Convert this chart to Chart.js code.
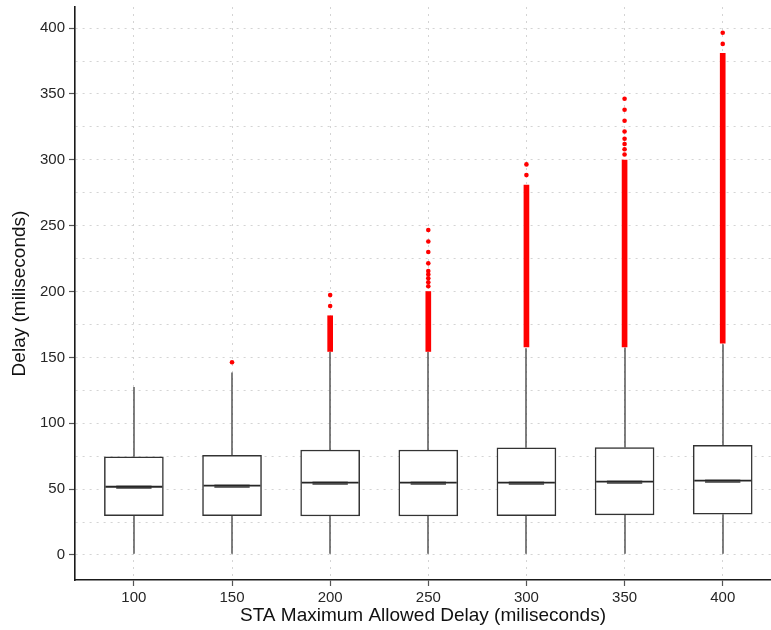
<!DOCTYPE html>
<html><head><meta charset="utf-8">
<script src="https://cdn.jsdelivr.net/npm/chart.js@4/dist/chart.umd.min.js"></script>
<style>html,body{margin:0;padding:0;background:#fff}#wrap{width:771px;height:630px;position:relative}canvas{display:block}</style>
</head><body><div id="wrap"><canvas id="c" width="771" height="630" style="width:771px;height:630px"></canvas></div>
<script>
// ---- data ----
const categories = [100, 150, 200, 250, 300, 350, 400];
const lowerWhisker = [1, 1, 1, 1, 1, 1, 1];
const q1 = [29.8, 29.8, 29.6, 29.6, 29.8, 30.4, 30.9];
const medians = [51.8, 52.6, 54.9, 54.9, 54.9, 55.7, 56.4];
const q3 = [74.6, 75.7, 79.7, 79.7, 81.4, 81.6, 83.2];
const upperWhisker = [127.5, 138.5, 154, 154, 157, 157.5, 160];
// dense runs of outliers (drawn as a solid red run)
const bandCategories = [200, 250, 300, 350, 400];
const bandLow = [154.5, 154.5, 158, 158, 160.7];
const bandHigh = [181.6, 200, 280.8, 299.8, 380.8];
// separate outliers
const outliers100 = [];
const outliers150 = [146.3];
const outliers200 = [189, 197.3];
const outliers250 = [204, 207, 210, 213, 215.5, 221.4, 230, 238, 246.7];
const outliers300 = [288.4, 296.5];
const outliers350 = [304, 308, 312, 316, 321.5, 329.6, 338, 346.4];
const outliers400 = [388, 396.5];
const yTickValues = [0, 25, 50, 75, 100, 125, 150, 175, 200, 225, 250, 275, 300, 325, 350, 375, 400];
const xTitle = 'STA Maximum Allowed Delay (miliseconds)';
const yTitle = 'Delay (miliseconds)';

const outlierLists = [outliers100, outliers150, outliers200, outliers250, outliers300, outliers350, outliers400];
const outlierPts = [];
outlierLists.forEach((arr, i) => arr.forEach(v => outlierPts.push({x: categories[i], y: v})));

const BOX_HALF = 15;   // in x units
const MED_INNER = 9;   // in x units

const boxPlugin = {
  id: 'boxParts',
  beforeDatasetsDraw(chart) {
    const {ctx, scales: {x, y}} = chart;
    ctx.save();
    ctx.strokeStyle = '#4a4a4a';
    ctx.lineWidth = 1.4;
    categories.forEach((c, i) => {
      const px = Math.round(x.getPixelForValue(c));
      ctx.beginPath();
      ctx.moveTo(px, y.getPixelForValue(upperWhisker[i]));
      ctx.lineTo(px, y.getPixelForValue(q3[i]));
      ctx.moveTo(px, y.getPixelForValue(q1[i]));
      ctx.lineTo(px, y.getPixelForValue(lowerWhisker[i]));
      ctx.stroke();
    });
    ctx.restore();
  },
  afterDatasetDraw(chart, args) {
    if (args.index !== 0) return;
    const {ctx, scales: {x, y}} = chart;
    ctx.save();
    categories.forEach((c, i) => {
      const py = y.getPixelForValue(medians[i]);
      ctx.strokeStyle = '#6e6e6e';
      ctx.lineWidth = 3.5;
      ctx.beginPath();
      ctx.moveTo(x.getPixelForValue(c - MED_INNER), py + 0.6);
      ctx.lineTo(x.getPixelForValue(c + MED_INNER), py + 0.6);
      ctx.stroke();
      ctx.strokeStyle = '#262626';
      ctx.lineWidth = 1.8;
      ctx.beginPath();
      ctx.moveTo(x.getPixelForValue(c - BOX_HALF) + 1, py);
      ctx.lineTo(x.getPixelForValue(c + BOX_HALF) - 1, py);
      ctx.stroke();
    });
    ctx.restore();
  }
};

const tickFont = {family: '"Liberation Sans", Arial, sans-serif', size: 15};
const titleFont = {family: '"Liberation Sans", Arial, sans-serif', size: 19};

new Chart(document.getElementById('c'), {
  type: 'bar',
  data: {
    datasets: [
      {
        type: 'bar',
        data: categories.map((c, i) => ({x: c, y: [q1[i], q3[i]]})),
        backgroundColor: '#ffffff',
        borderColor: '#333333',
        borderWidth: 1.5,
        borderSkipped: false,
        barThickness: 59,
        grouped: false,
        order: 3
      },
      {
        type: 'bar',
        data: bandCategories.map((c, i) => ({x: c, y: [bandLow[i], bandHigh[i]]})),
        backgroundColor: '#ff0000',
        borderWidth: 0,
        barThickness: 5,
        grouped: false,
        order: 2
      },
      {
        type: 'scatter',
        data: outlierPts,
        pointRadius: 2.3,
        pointBackgroundColor: '#ff0000',
        pointBorderWidth: 0,
        showLine: false,
        order: 1
      }
    ]
  },
  options: {
    responsive: false,
    animation: false,
    devicePixelRatio: 1,
    layout: {autoPadding: false, padding: {top: 7, right: 0, left: 0, bottom: 0}},
    plugins: {legend: {display: false}, tooltip: {enabled: false}},
    scales: {
      x: {
        type: 'linear',
        offset: false,
        min: 70,
        max: 424.6,
        afterBuildTicks: s => { s.ticks = categories.map(v => ({value: v})); },
        afterFit: s => { s.height = 50; s.paddingLeft = 0; s.paddingRight = 0; },
        ticks: {font: tickFont, color: '#262626', padding: 3, autoSkip: false, maxRotation: 0, callback: v => String(v)},
        grid: {offset: false, color: '#d4d4d4', lineWidth: 1, tickLength: 6, tickColor: '#555', tickWidth: 1.2, tickBorderDash: []},
        border: {display: true, color: '#1a1a1a', width: 1.6, dash: [2, 5]},
        title: {display: true, text: xTitle, font: titleFont, color: '#111', padding: {top: 0, bottom: 3}}
      },
      y: {
        type: 'linear',
        min: -19,
        max: 416,
        afterBuildTicks: s => { s.ticks = yTickValues.map(v => ({value: v})); },
        afterFit: s => { s.width = 75; s.paddingTop = 0; s.paddingBottom = 0; },
        ticks: {font: tickFont, color: '#262626', padding: 4, autoSkip: false,
          callback: v => (v % 50 === 0 ? String(v) : '')},
        grid: {color: '#d4d4d4', lineWidth: 1, tickLength: 6,
          tickColor: ctx => (ctx.tick && ctx.tick.value % 50 === 0 ? '#555' : 'rgba(0,0,0,0)'),
          tickWidth: 1.2, tickBorderDash: []},
        border: {display: true, color: '#1a1a1a', width: 1.6, dash: [2, 5]},
        title: {display: true, text: yTitle, font: titleFont, color: '#111', padding: {top: 8, bottom: 0}}
      }
    }
  },
  plugins: [boxPlugin]
});
</script></body></html>
